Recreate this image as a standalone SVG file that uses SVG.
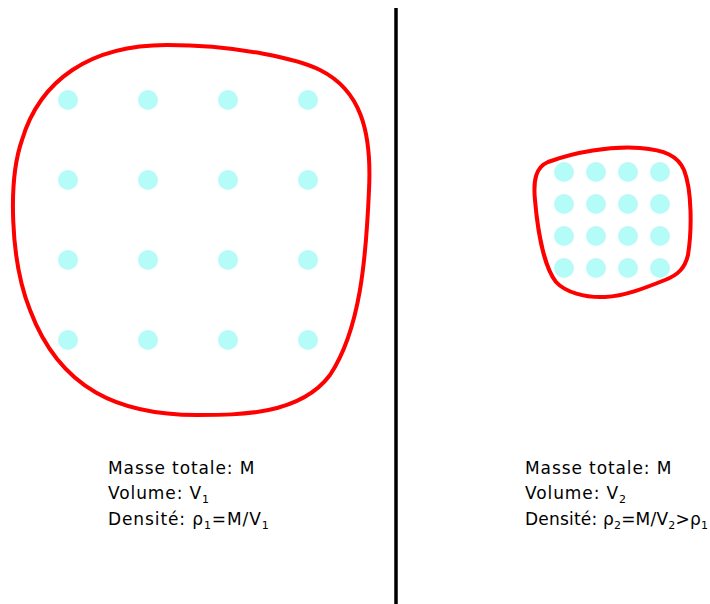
<svg xmlns="http://www.w3.org/2000/svg" width="710" height="604" viewBox="0 0 710 604">
<style>
.blob{fill:none;stroke:#ff0000;stroke-width:4;stroke-linejoin:round}
.dot{fill:#b5fcf8}
.lbl{font-family:"DejaVu Sans","Liberation Sans",sans-serif;font-size:17px;letter-spacing:0.9px;fill:#000}
.tight{letter-spacing:0.2px}
.sub{font-size:11px}
</style>
<rect width="710" height="604" fill="#fff"/>
<line x1="396" y1="8" x2="396" y2="604" stroke="#000" stroke-width="3.5"/>
<g id="big">
<path class="blob" d="M 167 45 C 240 45 300 60 320 70 C 360 90 372 130 369 190 C 366 260 360 330 330 375 C 300 415 240 415 197 415 C 120 415 60 390 30 310 C 10 260 8 180 22 140 C 40 80 90 45 167 45 Z"/>
<g class="dot">
<circle cx="68" cy="100" r="10"/><circle cx="148" cy="100" r="10"/><circle cx="228" cy="100" r="10"/><circle cx="308" cy="100" r="10"/>
<circle cx="68" cy="180" r="10"/><circle cx="148" cy="180" r="10"/><circle cx="228" cy="180" r="10"/><circle cx="308" cy="180" r="10"/>
<circle cx="68" cy="260" r="10"/><circle cx="148" cy="260" r="10"/><circle cx="228" cy="260" r="10"/><circle cx="308" cy="260" r="10"/>
<circle cx="68" cy="340" r="10"/><circle cx="148" cy="340" r="10"/><circle cx="228" cy="340" r="10"/><circle cx="308" cy="340" r="10"/>
</g>
</g>
<g id="small">
<path class="blob" d="M 548 162 C 575 152 610 146 640 148 C 665 150 678 156 684 170 C 692 190 692 230 688 255 C 685 268 678 275 665 280 C 645 288 625 296 605 297 C 585 298 565 292 556 282 C 545 268 538 235 535 200 C 533 180 536 167 548 162 Z"/>
<g class="dot">
<circle cx="564" cy="172" r="10"/><circle cx="596" cy="172" r="10"/><circle cx="628" cy="172" r="10"/><circle cx="660" cy="172" r="10"/>
<circle cx="564" cy="204" r="10"/><circle cx="596" cy="204" r="10"/><circle cx="628" cy="204" r="10"/><circle cx="660" cy="204" r="10"/>
<circle cx="564" cy="236" r="10"/><circle cx="596" cy="236" r="10"/><circle cx="628" cy="236" r="10"/><circle cx="660" cy="236" r="10"/>
<circle cx="564" cy="268" r="10"/><circle cx="596" cy="268" r="10"/><circle cx="628" cy="268" r="10"/><circle cx="660" cy="268" r="10"/>
</g>
</g>
<g id="text1" class="lbl">
<text x="108" y="474">Masse totale: M</text>
<text x="108" y="499">Volume: V<tspan class="sub" dy="4">1</tspan></text>
<text x="108" y="525">Densité: ρ<tspan class="sub" dy="4">1</tspan><tspan dy="-4">=M/V</tspan><tspan class="sub" dy="4">1</tspan></text>
</g>
<g id="text2" class="lbl">
<text x="525" y="474">Masse totale: M</text>
<text x="525" y="499">Volume: V<tspan class="sub" dy="4">2</tspan></text>
<text x="525" y="525" class="tight">Densité: ρ<tspan class="sub" dy="4">2</tspan><tspan dy="-4">=M/V</tspan><tspan class="sub" dy="4">2</tspan><tspan dy="-4">&gt;ρ</tspan><tspan class="sub" dy="4">1</tspan></text>
</g>
</svg>
